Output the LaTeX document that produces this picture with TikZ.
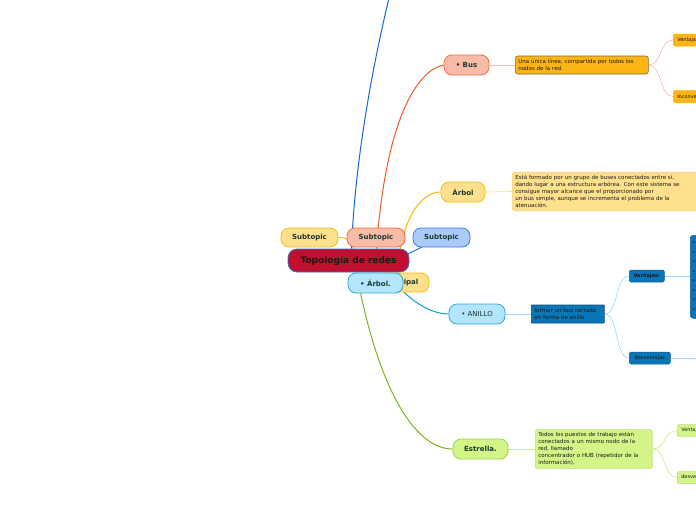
\documentclass[tikz,border=0pt]{standalone}
\usepackage{fontspec}
\setmainfont{DejaVu Sans}
\usetikzlibrary{backgrounds}
\definecolor{labelcol}{HTML}{1C3A30}
\definecolor{crimson}{HTML}{C0102F}
\definecolor{crimsonline}{HTML}{3A74C4}
\definecolor{salmonfill}{HTML}{F8BBA8}
\definecolor{salmonline}{HTML}{F26B3A}
\definecolor{yellowfill}{HTML}{FFE08C}
\definecolor{yellowline}{HTML}{F9B918}
\definecolor{bluefill}{HTML}{A8CBF8}
\definecolor{blueline}{HTML}{3A7FE0}
\definecolor{cyanfill}{HTML}{B3E5FC}
\definecolor{cyanline}{HTML}{2EA6DE}
\definecolor{greenfill}{HTML}{D3F588}
\definecolor{greenline}{HTML}{9CD24A}
\definecolor{amber}{HTML}{FDB515}
\definecolor{amberline}{HTML}{7A6B45}
\definecolor{navy}{HTML}{0A76B7}
\definecolor{navyline}{HTML}{0B4D78}
\definecolor{toplink}{HTML}{1565D8}
\definecolor{buslink}{HTML}{F05A28}
\definecolor{arbollink}{HTML}{FFB300}
\definecolor{anillolink}{HTML}{0F9BE0}
\definecolor{estrellalink}{HTML}{7CB518}

\begin{document}
\begin{tikzpicture}[x=1pt,y=-1pt,
    topic/.style={rounded corners=8pt, draw, line width=0.8pt, minimum height=19pt,
        font=\fontsize{7}{8}\selectfont\bfseries, text=labelcol, inner sep=2pt},
    note/.style={rounded corners=2.5pt, draw, line width=0.6pt, anchor=west,
        font=\fontsize{5.5}{7}\selectfont, align=left, inner sep=3pt, text=black!90},
    leaf/.style={rounded corners=1.5pt, draw, line width=0.5pt, anchor=west, minimum height=12pt,
        font=\fontsize{5}{6}\selectfont, inner xsep=4pt, inner ysep=2pt, text=black!90},
    link/.style={line width=1pt},
    twig/.style={line width=0.6pt}]
    \useasboundingbox (0,0) rectangle (696,520);
    \clip (0,0) rectangle (696,520);

    % centre
    \node[topic, fill=yellowfill, draw=yellowline, minimum width=57] (subL) at (309.5,237.5) {Subtopic};
    \node[topic, fill=salmonfill, draw=salmonline, minimum width=58] (subS) at (376,237.5) {Subtopic};
    \node[topic, fill=bluefill, draw=blueline, minimum width=57] (subB) at (441.5,237.5) {Subtopic};
    \node[topic, fill=crimson, draw=crimsonline, minimum width=121, minimum height=23,
        rounded corners=9pt, font=\fontsize{9}{10}\selectfont\bfseries, text=black!90] (main) at (348.5,260.5) {Topología de redes};
    \node[topic, fill=yellowfill, draw=yellowline, minimum width=56] (princ) at (401,282.5) {Principal};
    \node[topic, fill=cyanfill, draw=cyanline, minimum width=55, minimum height=20] (arbolC) at (375.5,283) {• Árbol.};

    % Bus
    \node[topic, fill=salmonfill, draw=salmonline, minimum width=45, minimum height=20] (bus) at (466.5,65) {• Bus};
    \node[note, fill=amber, draw=amberline, text width=127, minimum height=18] (busdesc) at (515,65)
        {Una única línea, compartida por todos los\\nodos de la red.};
    \node[leaf, fill=amber, draw=amber!80!orange] (busV) at (673,40) {Ventajas};
    \node[leaf, fill=amber, draw=amber!80!orange] (busI) at (673,96.5) {Inconvenientes};

    % Árbol
    \node[topic, fill=yellowfill, draw=yellowline, minimum width=44, minimum height=20] (arbolY) at (463,192) {Árbol};
    \node[note, fill=yellowfill, draw=yellowfill!80!orange, text width=185, minimum height=37] (arboldesc) at (512,191.5)
        {Está formado por un grupo de buses conectados entre sí,\\dando lugar a una estructura arbórea. Con este sistema se\\consigue mayor alcance que el proporcionado por\\un bus simple, aunque se incrementa el problema de la\\atenuación.};

    % Anillo
    \node[topic, fill=cyanfill, draw=cyanline, minimum width=56, minimum height=20,
        font=\fontsize{7}{8}\selectfont] (anillo) at (477,314) {• ANILLO};
    \node[note, fill=navy, draw=navyline, rounded corners=0.5pt, text width=67, minimum height=18] (anillodesc) at (531,314)
        {formar un bus cerrado\\en forma de anillo.};
    \node[leaf, fill=navy, draw=navy!80!black, minimum width=35, font=\fontsize{5}{6}\selectfont\bfseries] (anV) at (629,276) {Ventajas:};
    \node[leaf, fill=navy, draw=navy!80!black, minimum width=41] (anD) at (629,358) {desventajas};
    \node[leaf, fill=navy, draw=navy!80!black, rounded corners=3pt, anchor=north west, text width=72,
        minimum height=83, align=left, inner xsep=2pt, font=\fontsize{5}{9.5}\selectfont] (anBig) at (690,235) {•\\•\\•\\•\\•\\•\\•\\•};
    \coordinate (anEnd) at (697,358);

    % Estrella
    \node[topic, fill=greenfill, draw=greenline, minimum width=55, minimum height=20] (estrella) at (480.5,449) {Estrella.};
    \node[note, fill=greenfill, draw=greenline!70, text width=111, minimum height=38] (estdesc) at (535,449)
        {Todos los puestos de trabajo están\\conectados a un mismo nodo de la\\red, llamado\\concentrador o HUB (repetidor de la\\información).};
    \node[leaf, fill=greenfill, draw=greenline!70] (estV) at (677,430.5) {Ventajas};
    \node[leaf, fill=greenfill, draw=greenline!70] (estD) at (677,477.5) {desventajas};

    \coordinate (topEnd) at (389,-2);

    \begin{scope}[on background layer]
        % main branches
        \draw[link, toplink] ([xshift=3]main.north) .. controls +(4,-100) and +(-12,50) .. (topEnd);
        \draw[link, buslink] ([xshift=28]main.north) .. controls +(10,-140) and +(-22,4) .. (bus.west);
        \draw[link, arbollink] ([xshift=52]main.north) .. controls +(5,-30) and +(-20,0) .. (arbolY.west);
        \draw[link, blueline!90!black] ([xshift=-15]main.east) -- (subB.center);
        \draw[link, yellowline] (subL.east) .. controls +(8,0) and +(0,-8) .. ([xshift=5]main.north);
        \draw[link, anillolink] ([xshift=40]main.south) .. controls +(15,25) and +(-20,0) .. (anillo.west);
        \draw[link, estrellalink] ([xshift=8]main.south) .. controls +(20,110) and +(-40,0) .. (estrella.west);
        % twigs
        \draw[twig, salmonfill] (bus.east) -- (busdesc.west);
        \draw[twig, salmonfill] (busdesc.east) .. controls +(14,0) and +(-14,0) .. (busV.west);
        \draw[twig, salmonfill] (busdesc.east) .. controls +(14,0) and +(-14,0) .. (busI.west);
        \draw[twig, yellowfill!90!orange] (arbolY.east) -- (arboldesc.west);
        \draw[twig, cyanfill!80!cyanline] (anillo.east) -- (anillodesc.west);
        \draw[twig, cyanfill!80!cyanline] (anillodesc.east) .. controls +(14,0) and +(-14,0) .. (anV.west);
        \draw[twig, cyanfill!80!cyanline] (anillodesc.east) .. controls +(14,0) and +(-14,0) .. (anD.west);
        \draw[twig, cyanfill!80!cyanline] (anV.east) -- (anBig.west |- anV.east);
        \draw[twig, cyanfill!80!cyanline] (anD.east) -- (anEnd);
        \draw[twig, greenfill!80!greenline] (estrella.east) -- (estdesc.west);
        \draw[twig, greenfill!80!greenline] (estdesc.east) .. controls +(14,0) and +(-14,0) .. (estV.west);
        \draw[twig, greenfill!80!greenline] (estdesc.east) .. controls +(14,0) and +(-14,0) .. (estD.west);
    \end{scope}
\end{tikzpicture}
\end{document}
